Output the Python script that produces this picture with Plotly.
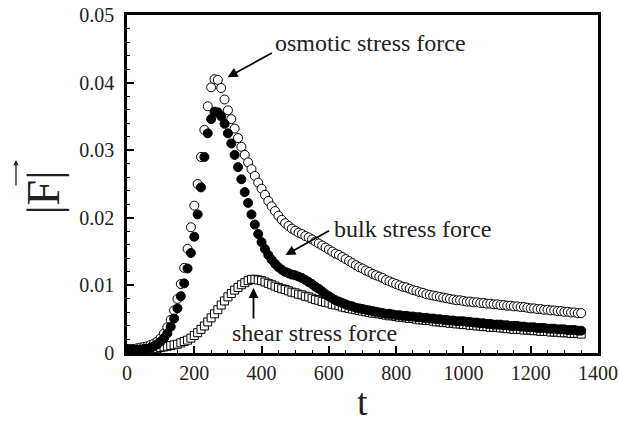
import plotly.graph_objects as go

# time grid (t = 0 ... 1350, sampled every 10)
t = list(range(0, 1351, 10))

osmotic = [
    0.0006, 0.0006, 0.0006, 0.0007, 0.0008, 0.0009, 0.0010, 0.0012, 0.0014, 0.0017,
    0.0022, 0.0029, 0.0038, 0.0049, 0.0063, 0.0080, 0.0102, 0.0126, 0.0154, 0.0186,
    0.0218, 0.0250, 0.0290, 0.0330, 0.0365, 0.0393, 0.0405, 0.0404, 0.0392, 0.0375,
    0.0359, 0.0346, 0.0332, 0.0318, 0.0305, 0.0293, 0.0282, 0.0272, 0.0262, 0.0252,
    0.0243, 0.0234, 0.0225, 0.0217, 0.0210, 0.0203, 0.0197, 0.0192, 0.0188, 0.0184,
    0.0181, 0.0178, 0.0176, 0.0173, 0.0171, 0.0168, 0.0165, 0.0162, 0.0159, 0.0156,
    0.0153, 0.0150, 0.0147, 0.0145, 0.0142, 0.0139, 0.0136, 0.0133, 0.0130, 0.0127,
    0.0125, 0.0122, 0.0120, 0.0117, 0.0115, 0.0113, 0.0111, 0.0108, 0.0106, 0.0104,
    0.0102, 0.0100, 0.0098, 0.0097, 0.0095, 0.0093, 0.0092, 0.0090, 0.0089, 0.0087,
    0.0086, 0.0085, 0.0084, 0.0083, 0.0082, 0.0081, 0.0080, 0.0079, 0.0078, 0.0078,
    0.0077, 0.0076, 0.0076, 0.0075, 0.0075, 0.0074, 0.0074, 0.0073, 0.0073, 0.0072,
    0.0072, 0.0071, 0.0071, 0.0070, 0.0070, 0.0069, 0.0069, 0.0068, 0.0068, 0.0067,
    0.0066, 0.0066, 0.0065, 0.0065, 0.0064, 0.0064, 0.0063, 0.0063, 0.0062, 0.0062,
    0.0061, 0.0061, 0.0060, 0.0060, 0.0059, 0.0059,
]

bulk = [
    0.0005, 0.0005, 0.0005, 0.0005, 0.0005, 0.0006, 0.0006, 0.0008, 0.0010, 0.0013,
    0.0017, 0.0022, 0.0029, 0.0039, 0.0051, 0.0066, 0.0084, 0.0103, 0.0125, 0.0148,
    0.0172, 0.0205, 0.0245, 0.0290, 0.0325, 0.0346, 0.0357, 0.0356, 0.0350, 0.0339,
    0.0325, 0.0310, 0.0293, 0.0275, 0.0257, 0.0238, 0.0222, 0.0205, 0.0190, 0.0176,
    0.0164, 0.0154, 0.0145, 0.0138, 0.0132, 0.0127, 0.0123, 0.0120, 0.0118, 0.0116,
    0.0115, 0.0113, 0.0111, 0.0108, 0.0105, 0.0102, 0.0098, 0.0095, 0.0091, 0.0087,
    0.0084, 0.0081, 0.0078, 0.0076, 0.0074, 0.0072, 0.0070, 0.0069, 0.0067, 0.0066,
    0.0065, 0.0064, 0.0063, 0.0062, 0.0061, 0.0060, 0.0059, 0.0058, 0.0058, 0.0057,
    0.0056, 0.0056, 0.0055, 0.0055, 0.0054, 0.0054, 0.0053, 0.0053, 0.0052, 0.0052,
    0.0051, 0.0051, 0.0050, 0.0050, 0.0049, 0.0049, 0.0048, 0.0048, 0.0047, 0.0047,
    0.0047, 0.0046, 0.0046, 0.0045, 0.0045, 0.0044, 0.0044, 0.0043, 0.0043, 0.0042,
    0.0042, 0.0042, 0.0041, 0.0041, 0.0040, 0.0040, 0.0040, 0.0039, 0.0039, 0.0038,
    0.0038, 0.0038, 0.0037, 0.0037, 0.0037, 0.0036, 0.0036, 0.0036, 0.0035, 0.0035,
    0.0035, 0.0034, 0.0034, 0.0034, 0.0033, 0.0033,
]

shear = [
    0.0004, 0.0004, 0.0004, 0.0005, 0.0005, 0.0005, 0.0006, 0.0006, 0.0007, 0.0007,
    0.0008, 0.0009, 0.0010, 0.0011, 0.0012, 0.0013, 0.0015, 0.0017, 0.0019, 0.0022,
    0.0026, 0.0030, 0.0035, 0.0040, 0.0046, 0.0052, 0.0058, 0.0064, 0.0071, 0.0077,
    0.0083, 0.0088, 0.0093, 0.0097, 0.0101, 0.0104, 0.0107, 0.0109, 0.0109, 0.0108,
    0.0107, 0.0105, 0.0103, 0.0101, 0.0099, 0.0097, 0.0095, 0.0094, 0.0092, 0.0090,
    0.0089, 0.0087, 0.0086, 0.0084, 0.0083, 0.0081, 0.0079, 0.0078, 0.0076, 0.0075,
    0.0074, 0.0072, 0.0071, 0.0070, 0.0068, 0.0067, 0.0066, 0.0065, 0.0064, 0.0063,
    0.0062, 0.0061, 0.0060, 0.0059, 0.0059, 0.0058, 0.0057, 0.0056, 0.0055, 0.0055,
    0.0054, 0.0053, 0.0053, 0.0052, 0.0051, 0.0051, 0.0050, 0.0049, 0.0049, 0.0048,
    0.0048, 0.0047, 0.0046, 0.0046, 0.0045, 0.0045, 0.0044, 0.0044, 0.0043, 0.0043,
    0.0042, 0.0042, 0.0041, 0.0041, 0.0040, 0.0040, 0.0039, 0.0039, 0.0038, 0.0038,
    0.0038, 0.0037, 0.0037, 0.0036, 0.0036, 0.0035, 0.0035, 0.0035, 0.0034, 0.0034,
    0.0034, 0.0033, 0.0033, 0.0032, 0.0032, 0.0032, 0.0031, 0.0031, 0.0031, 0.0030,
    0.0030, 0.0030, 0.0029, 0.0029, 0.0029, 0.0028,
]

labels = ["osmotic stress force", "bulk stress force", "shear stress force"]
x_ticks = [0, 200, 400, 600, 800, 1000, 1200, 1400]
y_ticks = [0, 0.01, 0.02, 0.03, 0.04, 0.05]
y_ticktext = ["0", "0.01", "0.02", "0.03", "0.04", "0.05"]

FONT = "Liberation Serif"
TXT = "#222"

fig = go.Figure()
fig.add_trace(go.Scatter(x=t, y=shear, mode="markers", name=labels[2],
                         marker=dict(symbol="square", size=8, color="white",
                                     line=dict(color="black", width=1))))
fig.add_trace(go.Scatter(x=t, y=osmotic, mode="markers", name=labels[0],
                         marker=dict(symbol="circle", size=9, color="white",
                                     line=dict(color="black", width=1))))
fig.add_trace(go.Scatter(x=t, y=bulk, mode="markers", name=labels[1],
                         marker=dict(symbol="circle", size=9, color="black",
                                     line=dict(color="black", width=1))))

ann = []
# text labels (left-anchored)
ann.append(dict(x=433, y=0.0458, xref="x", yref="y", text=labels[0], showarrow=False,
                xanchor="left", yanchor="middle", font=dict(family=FONT, size=24, color=TXT)))
ann.append(dict(x=610, y=0.0183, xref="x", yref="y", text=labels[1], showarrow=False,
                xanchor="left", yanchor="middle", font=dict(family=FONT, size=24, color=TXT)))
ann.append(dict(x=307, y=0.0029, xref="x", yref="y", text=labels[2], showarrow=False,
                xanchor="left", yanchor="middle", font=dict(family=FONT, size=24, color=TXT)))
# pointer arrows
for (hx, hy, tx, ty) in [(299, 0.0408, 435, 0.0445), (471, 0.0145, 605, 0.0182),
                         (376, 0.0096, 376, 0.0049)]:
    ann.append(dict(x=hx, y=hy, ax=tx, ay=ty, xref="x", yref="y", axref="x", ayref="y",
                    text="", showarrow=True, arrowhead=2, arrowsize=1.1, arrowwidth=1.8,
                    arrowcolor="black"))
# axis titles
ann.append(dict(x=0.501, y=-0.145, xref="paper", yref="paper", text="t", showarrow=False,
                xanchor="center", yanchor="middle", font=dict(family=FONT, size=38, color=TXT)))
ann.append(dict(x=-0.178, y=0.475, xref="paper", yref="paper", text="|F|", showarrow=False,
                textangle=-90, xanchor="center", yanchor="middle",
                font=dict(family=FONT, size=46, color=TXT)))
# vector arrow over F (rotated title, so it points upward)
ann.append(dict(x=-0.2357, y=0.571, xref="paper", yref="paper", text="", showarrow=True,
                ax=0, ay=27, arrowhead=2, arrowsize=0.8, arrowwidth=1.3, arrowcolor=TXT))

axis_common = dict(showline=True, linecolor="black", linewidth=2.5, mirror=True,
                   ticks="inside", tickcolor="black", tickwidth=1.5, ticklen=7,
                   showgrid=False, zeroline=False, automargin=False,
                   tickfont=dict(family=FONT, size=20, color=TXT))

fig.update_layout(
    width=619, height=425,
    margin=dict(l=127, r=21, t=15, b=72, autoexpand=False),
    paper_bgcolor="white", plot_bgcolor="white",
    showlegend=False,
    annotations=ann,
    font=dict(family=FONT, color=TXT),
    xaxis=dict(range=[0, 1400], tickvals=x_ticks,
               minor=dict(dtick=50, ticks="inside", ticklen=3.5, tickcolor="black", tickwidth=1.2),
               **axis_common),
    yaxis=dict(range=[0, 0.05], tickvals=y_ticks, ticktext=y_ticktext,
               minor=dict(dtick=0.002, ticks="inside", ticklen=3.5, tickcolor="black", tickwidth=1.2),
               ticklabelstandoff=6,
               **axis_common),
)

fig.write_html("out.html")
